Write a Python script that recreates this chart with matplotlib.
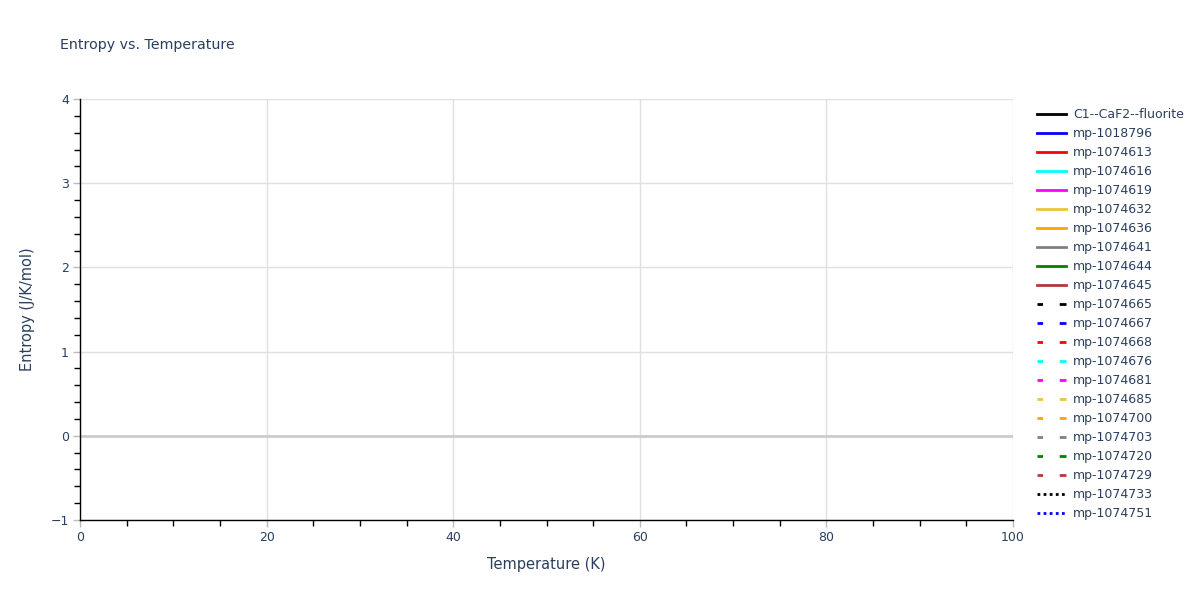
import matplotlib
matplotlib.use('Agg')
import matplotlib.pyplot as plt
import matplotlib.ticker as mticker

TEXT = '#2a3f5f'
GRID = '#e0e0e0'

# series shown in the legend (no points fall inside the plotted range)
names = ['C1--CaF2--fluorite', 'mp-1018796', 'mp-1074613', 'mp-1074616', 'mp-1074619',
         'mp-1074632', 'mp-1074636', 'mp-1074641', 'mp-1074644', 'mp-1074645',
         'mp-1074665', 'mp-1074667', 'mp-1074668', 'mp-1074676', 'mp-1074681',
         'mp-1074685', 'mp-1074700', 'mp-1074703', 'mp-1074720', 'mp-1074729',
         'mp-1074733', 'mp-1074751']
temperature = []
entropy = [[] for _ in names]

palette = ['black', 'blue', 'red', 'cyan', 'magenta', '#ecc43c', 'orange', 'gray', 'green', '#b03a3a']
styles = ['-'] * 10 + ['--'] * 10 + [':'] * 2

fig = plt.figure(figsize=(12, 6), dpi=100)
fig.patch.set_facecolor('white')
ax = fig.add_axes([80 / 1200, 80 / 600, 933 / 1200, 421 / 600])
ax.set_facecolor('white')

for i, name in enumerate(names):
    ls = styles[i]
    kw = dict(color=palette[i % 10], linewidth=2, label=name)
    if ls == '--':
        kw['linestyle'] = (1, (3, 6))
    elif ls == ':':
        kw['linestyle'] = (0, (1, 1.2))
    ax.plot(temperature, entropy[i], **kw)

ax.set_xlim(0, 100)
ax.set_ylim(-1, 4)
ax.xaxis.set_major_locator(mticker.MultipleLocator(20))
ax.xaxis.set_minor_locator(mticker.MultipleLocator(5))
ax.yaxis.set_major_locator(mticker.MultipleLocator(1))
ax.yaxis.set_minor_locator(mticker.MultipleLocator(0.2))
ax.yaxis.set_major_formatter(mticker.FuncFormatter(lambda v, _: f"{v:.0f}".replace('-', '\u2212')))

ax.grid(which='major', color=GRID, linewidth=1)
ax.axhline(0, color='#cccccc', linewidth=2, zorder=1)
ax.set_axisbelow(True)

for s in ['top', 'right']:
    ax.spines[s].set_visible(False)
for s in ['left', 'bottom']:
    ax.spines[s].set_color('black')
    ax.spines[s].set_linewidth(1)

ax.tick_params(which='major', length=5, width=1, color='#bbbbbb', labelsize=9, labelcolor=TEXT, pad=3)
ax.tick_params(which='minor', length=4, width=1, color='black')

ax.set_xlabel('Temperature (K)', fontsize=10.5, color=TEXT, labelpad=9)
ax.set_ylabel('Entropy (J/K/mol)', fontsize=10.5, color=TEXT, labelpad=11)

fig.text(60 / 1200, 1 - 45 / 600, 'Entropy vs. Temperature', fontsize=10.2, color=TEXT, va='center', ha='left')

leg = fig.legend(loc='upper left', bbox_to_anchor=(1037 / 1200, 1 - 108 / 600), frameon=False,
                 fontsize=9, handlelength=2.33, handletextpad=0.58, labelspacing=0.48,
                 borderaxespad=0, borderpad=0)
for t in leg.get_texts():
    t.set_color(TEXT)

fig.savefig('out.png', dpi=100, facecolor='white')
